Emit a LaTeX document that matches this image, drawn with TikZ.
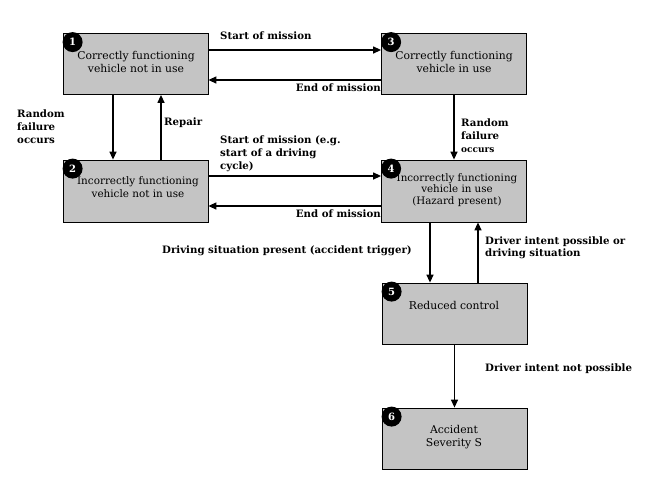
\documentclass[tikz,border=0pt]{standalone}
\usepackage{fontspec}
\setmainfont{DejaVu Serif}
\usetikzlibrary{arrows.meta}
\definecolor{boxgray}{HTML}{C4C4C4}
\tikzset{
  state/.style={draw=black, line width=0.8pt, fill=boxgray, minimum width=145pt, minimum height=61pt, inner sep=0pt},
  boxtext/.style={align=center, font=\fontsize{10.8}{13}\selectfont, inner sep=0pt},
  lbl/.style={font=\bfseries\fontsize{10.2}{13}\selectfont, inner sep=0pt, align=left},
  badge/.style={circle, fill=black, minimum size=20pt, inner sep=0pt, text=white, font=\bfseries\fontsize{10}{10}\selectfont},
  arr/.style={line width=1.3pt, -{Triangle[length=8pt,width=7pt]}}
}
\begin{document}
\begin{tikzpicture}[x=1pt,y=-1pt]
\useasboundingbox (0,0) rectangle (657,480);
% boxes
\node[state] (b1) at (135.5,64) {};
\node[state] (b3) at (454,64) {};
\node[state, minimum height=62pt] (b2) at (135.5,191) {};
\node[state, minimum height=62pt] (b4) at (454,191) {};
\node[state] (b5) at (454.5,313.5) {};
\node[state] (b6) at (454.5,438.5) {};
% badges
\node[badge] (c1) at ([xshift=10pt,yshift=-9pt]b1.north west) {1};
\node[badge] (c3) at ([xshift=10pt,yshift=-9pt]b3.north west) {3};
\node[badge] (c2) at ([xshift=10pt,yshift=-9pt]b2.north west) {2};
\node[badge] (c4) at ([xshift=10pt,yshift=-9pt]b4.north west) {4};
\node[badge] (c5) at ([xshift=10pt,yshift=-9pt]b5.north west) {5};
\node[badge] (c6) at ([xshift=10pt,yshift=-9pt]b6.north west) {6};
% box texts
\node[boxtext] (t1) at (136,61.5) {Correctly functioning\\vehicle not in use};
\node[boxtext] (t3) at (454,61.5) {Correctly functioning\\vehicle in use};
\node[boxtext, font=\fontsize{10.4}{13}\selectfont] (t2) at (138,187.5) {Incorrectly functioning\\vehicle not in use};
\node[boxtext, font=\fontsize{10.3}{11.5}\selectfont] (t4) at (457,190) {Incorrectly functioning\\vehicle in use\\(Hazard present)};
\node[boxtext] (t5) at (454,305) {Reduced control};
\node[boxtext] (t6) at (454,437.5) {Accident\\Severity S};
% arrows
\draw[arr] ([yshift=14pt]b1.east) -- ([yshift=14pt]b3.west);
\draw[arr] ([yshift=-16pt]b3.west) -- ([yshift=-16pt]b1.east);
\draw[arr] ([yshift=15pt]b2.east) -- ([yshift=15pt]b4.west);
\draw[arr] ([yshift=-15pt]b4.west) -- ([yshift=-15pt]b2.east);
\draw[arr] ([xshift=-22.5pt]b1.south) -- ([xshift=-22.5pt]b2.north);
\draw[arr] ([xshift=25.5pt]b2.north) -- ([xshift=25.5pt]b1.south);
\draw[arr] (b3.south) -- (b4.north);
\draw[arr] ([xshift=-24pt]b4.south) -- ([xshift=-24.5pt]b5.north);
\draw[arr] ([xshift=23.5pt]b5.north) -- ([xshift=24pt]b4.south);
\draw[arr] (b5.south) -- (b6.north);
% labels
\node[lbl, anchor=west] (l13) at (220,36) {Start of mission};
\node[lbl, anchor=east] (l31) at (381,88) {End of mission};
\node[lbl, anchor=west] (l12) at (17,127) {Random\\failure\\occurs};
\node[lbl, anchor=west] (l21) at (164,123) {Repair};
\node[lbl, anchor=west] (l24) at (220,154) {Start of mission (e.g.\\start of a driving\\cycle)};
\node[lbl, anchor=east] (l42) at (381,214) {End of mission};
\node[lbl, anchor=west] (l34) at (461,136) {Random\\failure\\{\fontsize{9}{11}\selectfont occurs}};
\node[lbl, anchor=west] (l45) at (162,251) {Driving situation present (accident trigger)};
\node[lbl, anchor=west, font=\bfseries\fontsize{10.2}{12}\selectfont] (l54) at (485,248) {Driver intent possible or\\driving situation};
\node[lbl, anchor=west] (l56) at (485,369) {Driver intent not possible};
\end{tikzpicture}
\end{document}
